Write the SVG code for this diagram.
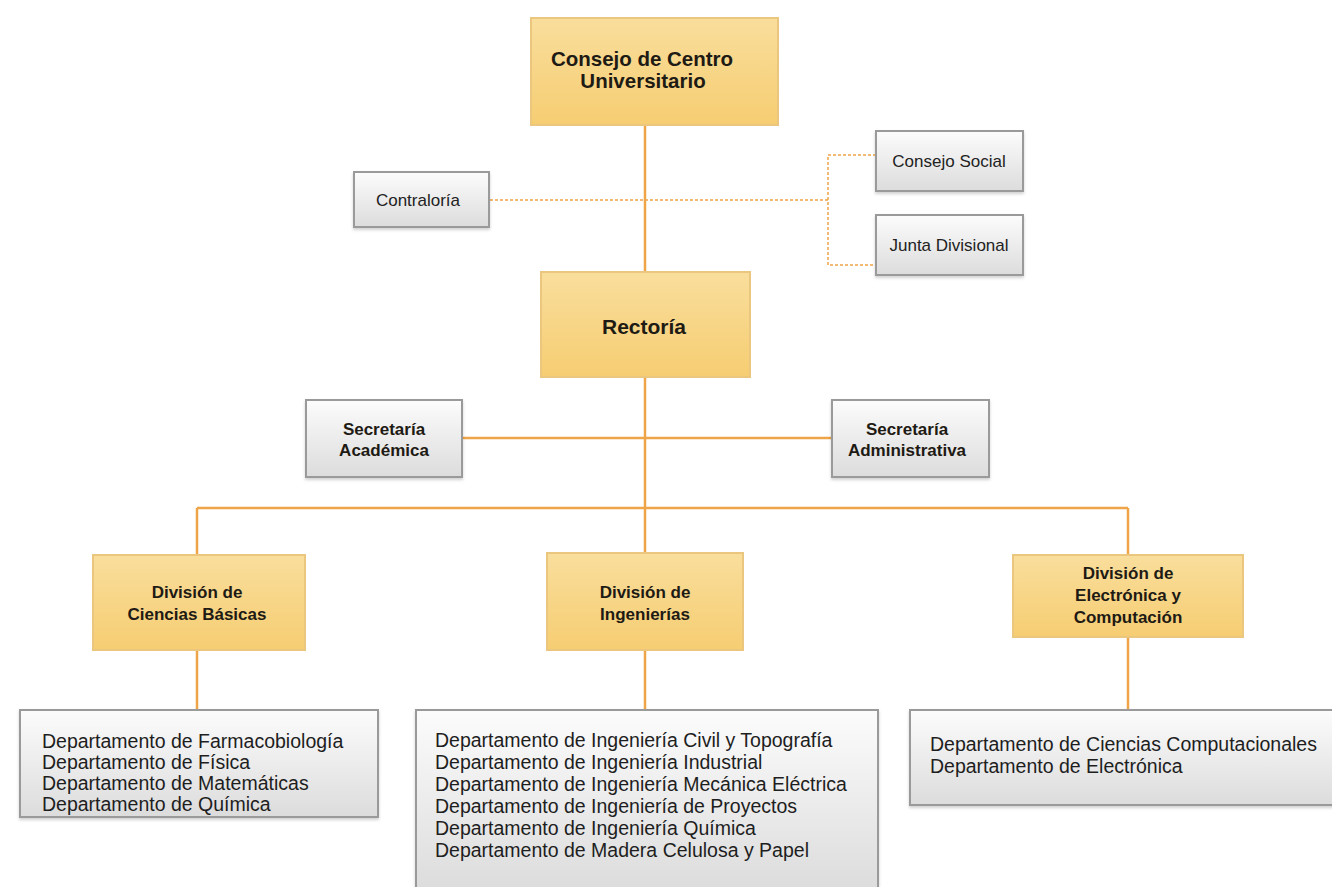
<svg xmlns="http://www.w3.org/2000/svg" width="1332" height="887" viewBox="0 0 1332 887">
<defs>
<linearGradient id="gy" x1="0" y1="0" x2="0" y2="1">
<stop offset="0" stop-color="#f9de9c"/>
<stop offset="1" stop-color="#f6cd72"/>
</linearGradient>
<linearGradient id="gg" x1="0" y1="0" x2="0" y2="1">
<stop offset="0" stop-color="#fcfcfc"/>
<stop offset="1" stop-color="#dcdcdc"/>
</linearGradient>
<filter id="sh" x="-10%" y="-10%" width="120%" height="130%">
<feDropShadow dx="0" dy="2" stdDeviation="1.5" flood-color="#000" flood-opacity="0.18"/>
</filter>
<style>
.y{fill:url(#gy);stroke:#ebc67e;stroke-width:2}
.g{fill:url(#gg);stroke:#9a9a9a;stroke-width:2;filter:url(#sh)}
.b{font-family:"Liberation Sans",Arial,sans-serif;font-weight:bold;fill:#1e1a14;text-anchor:middle}
.r{font-family:"Liberation Sans",Arial,sans-serif;fill:#222;text-anchor:middle;font-size:17px}
.d{font-family:"Liberation Sans",Arial,sans-serif;fill:#1e1e1e;font-size:19.5px}
.ln{stroke:#f0a448;stroke-width:2.5;fill:none}
.ds{stroke:#f0a448;stroke-width:1.5;fill:none;stroke-dasharray:3 2}
</style>
</defs>
<rect width="1332" height="887" fill="#ffffff"/>
<g id="connectors">
<line class="ln" x1="645" y1="125" x2="645" y2="272"/>
<line class="ln" x1="645" y1="377" x2="645" y2="553"/>
<line class="ln" x1="462" y1="438" x2="832" y2="438"/>
<line class="ln" x1="197" y1="508" x2="1128" y2="508"/>
<line class="ln" x1="197" y1="508" x2="197" y2="555"/>
<line class="ln" x1="1128" y1="508" x2="1128" y2="555"/>
<line class="ln" x1="197" y1="650" x2="197" y2="710"/>
<line class="ln" x1="645" y1="650" x2="645" y2="710"/>
<line class="ln" x1="1128" y1="637" x2="1128" y2="710"/>
<path class="ds" d="M490 200 H828 M876 155 H828 V265 H876"/>
</g>
<g id="consejo-centro">
<rect class="y" x="531" y="18" width="247" height="107"/>
<text class="b" font-size="20.5" x="642" y="66">Consejo de Centro</text>
<text class="b" font-size="20.5" x="643" y="88">Universitario</text>
</g>
<g id="contraloria">
<rect class="g" x="354" y="172" width="135" height="55"/>
<text class="r" x="418" y="206">Contraloría</text>
</g>
<g id="consejo-social">
<rect class="g" x="876" y="131" width="147" height="60"/>
<text class="r" x="949" y="167">Consejo Social</text>
</g>
<g id="junta-divisional">
<rect class="g" x="876" y="215" width="147" height="60"/>
<text class="r" x="949" y="251">Junta Divisional</text>
</g>
<g id="rectoria">
<rect class="y" x="541" y="272" width="209" height="105"/>
<text class="b" font-size="21" x="644" y="334">Rectoría</text>
</g>
<g id="secretaria-academica">
<rect class="g" x="306" y="400" width="156" height="77"/>
<text class="b" font-size="17" x="384" y="435">Secretaría</text>
<text class="b" font-size="17" x="384" y="456">Académica</text>
</g>
<g id="secretaria-administrativa">
<rect class="g" x="832" y="400" width="157" height="77"/>
<text class="b" font-size="17" x="907" y="435">Secretaría</text>
<text class="b" font-size="17" x="907" y="456">Administrativa</text>
</g>
<g id="div-ciencias-basicas">
<rect class="y" x="93" y="555" width="212" height="95"/>
<text class="b" font-size="17" x="197" y="598">División de</text>
<text class="b" font-size="17" x="197" y="620">Ciencias Básicas</text>
</g>
<g id="div-ingenierias">
<rect class="y" x="547" y="553" width="196" height="97"/>
<text class="b" font-size="17" x="645" y="598">División de</text>
<text class="b" font-size="17" x="645" y="620">Ingenierías</text>
</g>
<g id="div-electronica">
<rect class="y" x="1013" y="555" width="230" height="82"/>
<text class="b" font-size="17" x="1128" y="579">División de</text>
<text class="b" font-size="17" x="1128" y="601">Electrónica y</text>
<text class="b" font-size="17" x="1128" y="623">Computación</text>
</g>
<g id="deptos-ciencias">
<rect class="g" x="20" y="710" width="358" height="107"/>
<text class="d" x="42" y="748">Departamento de Farmacobiología</text>
<text class="d" x="42" y="769">Departamento de Física</text>
<text class="d" x="42" y="790">Departamento de Matemáticas</text>
<text class="d" x="42" y="811">Departamento de Química</text>
</g>
<g id="deptos-ingenierias">
<rect class="g" x="416" y="710" width="462" height="180"/>
<text class="d" x="435" y="747">Departamento de Ingeniería Civil y Topografía</text>
<text class="d" x="435" y="769">Departamento de Ingeniería Industrial</text>
<text class="d" x="435" y="791">Departamento de Ingeniería Mecánica Eléctrica</text>
<text class="d" x="435" y="813">Departamento de Ingeniería de Proyectos</text>
<text class="d" x="435" y="835">Departamento de Ingeniería Química</text>
<text class="d" x="435" y="857">Departamento de Madera Celulosa y Papel</text>
</g>
<g id="deptos-electronica">
<rect class="g" x="910" y="710" width="430" height="95"/>
<text class="d" x="930" y="751">Departamento de Ciencias Computacionales</text>
<text class="d" x="930" y="773">Departamento de Electrónica</text>
</g>
</svg>
